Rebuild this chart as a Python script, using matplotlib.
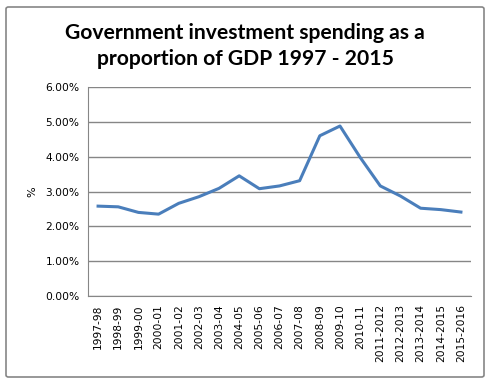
import numpy as np
import matplotlib.pyplot as plt
from matplotlib.patches import FancyBboxPatch
from matplotlib.ticker import PercentFormatter

# Data (% of GDP)
years = ["1997-98", "1998-99", "1999-00", "2000-01", "2001-02", "2002-03",
         "2003-04", "2004-05", "2005-06", "2006-07", "2007-08", "2008-09",
         "2009-10", "2010-11", "2011-2012", "2012-2013", "2013-2014",
         "2014-2015", "2015-2016"]
spending = [2.58, 2.56, 2.40, 2.35, 2.66, 2.85, 3.09, 3.45, 3.08, 3.16,
            3.31, 4.60, 4.88, 3.98, 3.16, 2.87, 2.52, 2.48, 2.41]

fig = plt.figure(figsize=(4.93, 3.8), dpi=100)
ax = fig.add_axes([88 / 493, 1 - 296 / 380, 383 / 493, 209 / 380])

# Outer chart border
fig.patches.append(FancyBboxPatch((6 / 493, 3 / 380), 478 / 493, 370 / 380,
                                  boxstyle="round,pad=0,rounding_size=0.005",
                                  transform=fig.transFigure, fill=False,
                                  edgecolor="#868686", linewidth=1.2))

x = np.arange(len(years))
ax.plot(x, spending, color="#4a7ebb", linewidth=2.2)

ax.set_xlim(-0.5, len(years) - 0.5)
ax.set_ylim(0, 6)
ax.set_yticks(np.arange(0, 7, 1))
ax.yaxis.set_major_formatter(PercentFormatter(decimals=2))
ax.set_xticks(x)
ax.set_xticklabels(years, rotation=90)
ax.grid(axis="y", color="#868686", linewidth=1)
ax.set_axisbelow(True)

for side in ["top", "right"]:
    ax.spines[side].set_visible(False)
for side in ["left", "bottom"]:
    ax.spines[side].set_color("#868686")
ax.tick_params(length=0, labelsize=7.7, pad=6)
ax.set_ylabel("%", fontsize=8, labelpad=6)

fig.text(0.497, 1 - 46 / 380, "Government investment spending as a\nproportion of GDP 1997 - 2015",
         ha="center", va="center", fontsize=15.2, fontweight="bold",
         family="Lato", linespacing=1.4)

fig.savefig("out.png", dpi=100)
